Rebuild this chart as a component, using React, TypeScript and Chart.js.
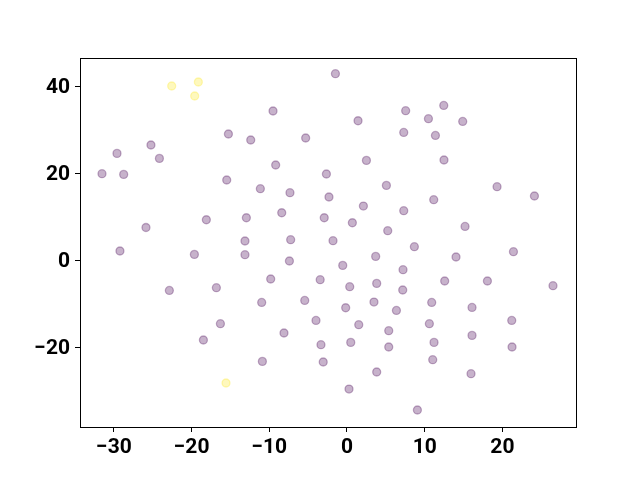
import React, { useEffect, useRef } from "react";
import { Chart, registerables } from "chart.js";

Chart.register(...registerables);

const purpleX = [
  -1.49, -9.52, 7.55, 12.45, 1.42, 10.48, 14.89, -15.26, -12.39, -5.32,
  7.3, 11.38, -25.23, -29.6, -24.14, -9.18, 2.5, 12.48, -31.53, -28.74,
  -2.65, -15.48, -11.15, -7.34, -2.32, 5.07, 19.31, 24.12, -8.4, -18.1,
  -12.95, -2.93, 2.11, 11.16, 7.3, -25.87, 0.69, 5.24, 15.19, -13.13,
  -7.25, -1.8, -29.22, -19.64, -13.13, -7.41, 8.67, 3.69, 14.03, 21.42,
  -0.55, 7.21, -22.86, -16.81, -9.82, -3.45, 0.35, 3.82, 7.17, 12.57,
  18.07, 26.51, -10.98, -5.44, 3.47, 10.9, -0.17, 6.36, 16.09, -16.29,
  -3.99, 1.51, 5.37, 10.6, 21.2, 16.09, -8.11, -18.48, -3.35, 0.48,
  5.37, 11.2, 21.24, -10.89, -3.06, 11.03, 3.82, 15.96, 0.26, 9.06,
];
const purpleY = [
  42.83, 34.25, 34.32, 35.54, 32.02, 32.48, 31.86, 28.97, 27.59, 28.05,
  29.33, 28.64, 26.44, 24.51, 23.36, 21.84, 22.9, 22.99, 19.84, 19.68,
  19.77, 18.39, 16.39, 15.47, 14.48, 17.15, 16.85, 14.71, 10.87, 9.26,
  9.72, 9.72, 12.41, 13.86, 11.33, 7.47, 8.57, 6.74, 7.72, 4.37,
  4.67, 4.44, 2.07, 1.29, 1.22, -0.23, 3.06, 0.83, 0.69, 1.91,
  -1.24, -2.23, -6.99, -6.37, -4.37, -4.53, -6.14, -5.38, -6.9, -4.83,
  -4.83, -5.91, -9.75, -9.29, -9.66, -9.75, -10.97, -11.59, -10.9, -14.64,
  -13.89, -14.87, -16.25, -14.64, -13.89, -17.33, -16.78, -18.39, -19.47, -18.94,
  -20.0, -18.94, -20.0, -23.31, -23.45, -22.92, -25.75, -26.14, -29.66, -34.48,
];
const yellowX = [-22.56, -19.13, -19.6, -15.57];
const yellowY = [40.0, 40.92, 37.7, -28.28];

const xTicks = [-30, -20, -10, 0, 10, 20];
const yTicks = [-20, 0, 20, 40];
const xRange = [-34.36, 29.47];
const yRange = [-38.39, 46.44];

const toPoints = (xs: number[], ys: number[]) => xs.map((x, i) => ({ x, y: ys[i] }));

const framePlugin = {
  id: "frame",
  afterDraw(chart: any) {
    const { ctx, chartArea } = chart;
    ctx.save();
    ctx.strokeStyle = "#000";
    ctx.lineWidth = 1;
    ctx.strokeRect(
      Math.round(chartArea.left) + 0.5,
      Math.round(chartArea.top) + 0.5,
      Math.round(chartArea.right - chartArea.left),
      Math.round(chartArea.bottom - chartArea.top)
    );
    ctx.restore();
  },
};

export default function App() {
  const ref = useRef<HTMLCanvasElement | null>(null);
  useEffect(() => {
    if (!ref.current) return;
    const font = { family: "Roboto", weight: "bold" as const, size: 21 };
    const chart = new Chart(ref.current, {
      type: "scatter",
      data: {
        datasets: [
          {
            data: toPoints(purpleX, purpleY),
            backgroundColor: "rgba(68,1,84,0.3)",
            borderColor: "rgba(68,1,84,0.3)",
            borderWidth: 1.3,
            pointRadius: 4,
          },
          {
            data: toPoints(yellowX, yellowY),
            backgroundColor: "rgba(253,231,37,0.3)",
            borderColor: "rgba(253,231,37,0.3)",
            borderWidth: 1.3,
            pointRadius: 4,
          },
        ],
      },
      options: {
        animation: false,
        responsive: false,
        maintainAspectRatio: false,
        layout: { padding: { left: 0, top: 58, right: 64, bottom: 0 } },
        plugins: { legend: { display: false }, tooltip: { enabled: false } },
        scales: {
          x: {
            type: "linear",
            min: xRange[0],
            max: xRange[1],
            afterBuildTicks: (s: any) => {
              s.ticks = xTicks.map((v) => ({ value: v }));
            },
            afterFit: (s: any) => {
              s.height = 53;
            },
            grid: { display: true, drawOnChartArea: false, drawTicks: true, tickLength: 5, color: "#000", lineWidth: 1 },
            border: { display: true, color: "#000", width: 1 },
            ticks: { color: "#000", font, padding: 3, maxRotation: 0, autoSkip: false, callback: (v: any) => String(v).replace("-", "\u2212") },
          },
          y: {
            type: "linear",
            min: yRange[0],
            max: yRange[1],
            afterBuildTicks: (s: any) => {
              s.ticks = yTicks.map((v) => ({ value: v }));
            },
            afterFit: (s: any) => {
              s.width = 80;
            },
            grid: { display: true, drawOnChartArea: false, drawTicks: true, tickLength: 5, color: "#000", lineWidth: 1 },
            border: { display: true, color: "#000", width: 1 },
            ticks: { color: "#000", font, padding: 5, labelOffset: 2, autoSkip: false, callback: (v: any) => String(v).replace("-", "\u2212") },
          },
        },
      },
      plugins: [framePlugin],
    });
    return () => chart.destroy();
  }, []);
  return (
    <div style={{ position: "fixed", left: 0, top: 0, width: 640, height: 480, background: "#fff" }}>
      <canvas ref={ref} width={640} height={480} style={{ width: 640, height: 480 }} />
    </div>
  );
}
